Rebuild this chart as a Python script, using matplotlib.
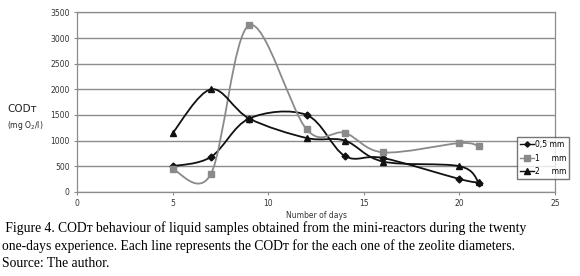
import numpy as np
import matplotlib.pyplot as plt
from matplotlib.path import Path
from matplotlib.patches import PathPatch

# data
days = [5, 7, 9, 12, 14, 16, 20, 21]
cod_05 = [500, 680, 1430, 1500, 700, 660, 250, 180]
cod_1 = [440, 350, 3250, 1220, 1150, 770, 950, 890]
cod_2 = [1150, 2000, 1430, 1050, 1000, 590, 500, 190]

labels = ['0,5 mm', '1     mm', '2     mm']
markers = ['D', 's', '^']
colors = ['#111111', '#8a8a8a', '#111111']
msizes = [3.5, 4.5, 5]

yticks = np.arange(0, 3501, 500)
xticks = np.arange(0, 26, 5)

caption = (' Figure 4. CODᴛ behaviour of liquid samples obtained from the mini-reactors during the twenty\n'
           'one-days experience. Each line represents the CODᴛ for the each one of the zeolite diameters.\n'
           'Source: The author.')


def smooth_path(x, y):
    # Excel-style smoothed line: Catmull-Rom segments as cubic Bezier curves
    pts = np.column_stack([x, y]).astype(float)
    n = len(pts)
    verts = [pts[0]]
    codes = [Path.MOVETO]
    for i in range(n - 1):
        p0 = pts[max(i - 1, 0)]
        p1 = pts[i]
        p2 = pts[i + 1]
        p3 = pts[min(i + 2, n - 1)]
        c1 = p1 + (p2 - p0) / 6
        c2 = p2 - (p3 - p1) / 6
        verts += [c1, c2, p2]
        codes += [Path.CURVE4] * 3
    return Path(verts, codes)


fig = plt.figure(figsize=(5.8, 2.76), dpi=100)
ax = fig.add_axes([0.133, 0.305, 0.824, 0.650])

ax.set_axisbelow(True)
ax.grid(axis='y', color='#8c8c8c', linewidth=1.0)

for ys, lab, m, c, ms in zip([cod_05, cod_1, cod_2], labels, markers, colors, msizes):
    ax.add_patch(PathPatch(smooth_path(days, ys), facecolor='none', edgecolor=c, linewidth=1.3, zorder=3))
    ax.plot(days, ys, linestyle='none', marker=m, color=c, markersize=ms, zorder=4)
    # proxy for the legend
    ax.plot([], [], marker=m, color=c, markersize=ms - 0.8, linewidth=1.0, label=lab)

ax.set_xlim(0, 25)
ax.set_ylim(0, 3500)
ax.set_xticks(xticks)
ax.set_yticks(yticks)
ax.tick_params(labelsize=5.5, labelcolor='#333333', length=2.5, width=0.8, color='#8c8c8c', pad=3)
for s in ax.spines.values():
    s.set_color('#8c8c8c')
    s.set_linewidth(0.9)

ax.set_xlabel('Number of days', fontsize=5.5, color='#333333', labelpad=2)
fig.text(0.012, 0.595, 'CODᴛ', fontsize=7.5, color='#222222', family=['DejaVu Sans'])
fig.text(0.012, 0.535, '(mg O$_\\mathregular{2}$/l)', fontsize=5.5, color='#222222')

ax.legend(loc='upper left', bbox_to_anchor=(0.891, 0.504), bbox_transform=fig.transFigure,
          borderaxespad=0, fontsize=5.5, handlelength=1.8, handletextpad=0.15, labelspacing=0.6,
          borderpad=0.4, frameon=True, fancybox=False, edgecolor='#555555')

fig.text(0.004, 0.198, caption, fontsize=9.8, va='top', linespacing=1.38,
         family=['Liberation Serif', 'DejaVu Serif', 'DejaVu Sans'])

plt.savefig('out.png', dpi=100)
